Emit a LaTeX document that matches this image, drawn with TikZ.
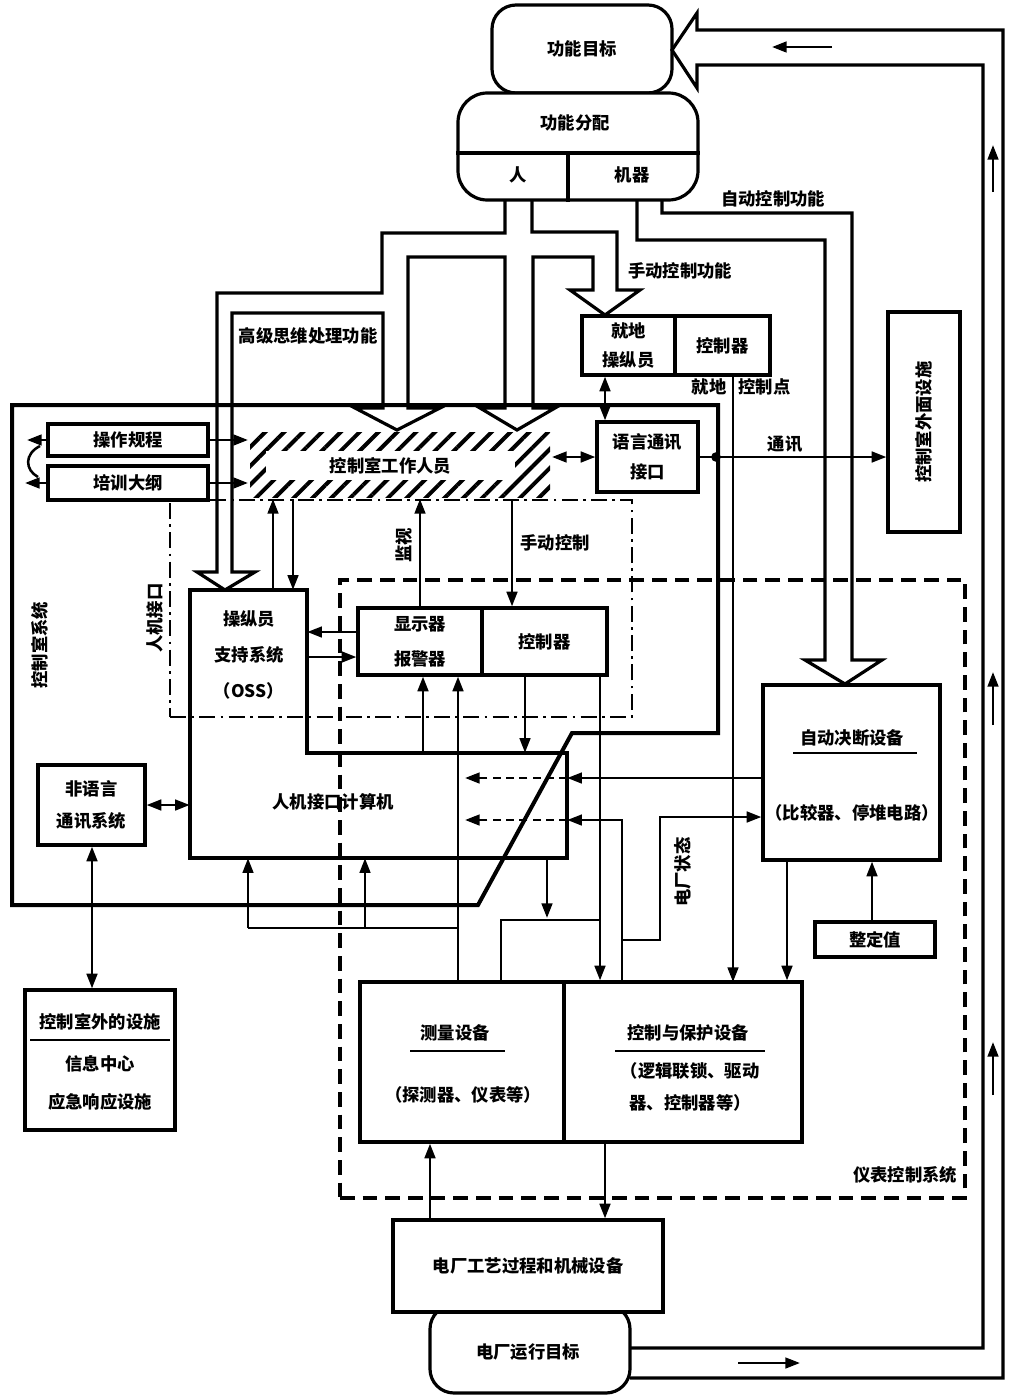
\documentclass[tikz,border=0pt]{standalone}
\usepackage{fontspec}
\setmainfont{Noto Sans CJK SC}
\usetikzlibrary{arrows.meta,patterns.meta,fit,calc}
\begin{document}
\begin{tikzpicture}[x=0.75pt,y=-0.75pt,line join=miter,
  box/.style={draw,line width=2.4pt,inner sep=0pt},
  area/.style={inner sep=0pt},
  lbl/.style={font=\fontsize{13}{19}\selectfont\bfseries,inner sep=1pt,align=center},
  pipe/.style={line width=2.4pt,line join=miter},
  conn/.style={line width=1.9pt},
  tip/.style={-{Triangle[length=11pt,width=8pt]}},
  arr/.style={conn,tip},
  darr/.style={conn,{Triangle[length=11pt,width=8pt]}-{Triangle[length=11pt,width=8pt]}},
  dsh/.style={dash pattern=on 6pt off 4pt},
  dashbox/.style={line width=2.4pt,dash pattern=on 11pt off 6pt},
  dashdot/.style={line width=2pt,dash pattern=on 12pt off 4pt on 2pt off 4pt}]
\useasboundingbox (0,0) rectangle (1014,1395);

% ---------- feedback pipe ----------
\draw[pipe] (630,1378) -- (1003,1378) -- (1003,30) -- (697,30) -- (697,13) -- (672,50)
  -- (697,88) -- (697,65) -- (983,65) -- (983,1348) -- (630,1348);
\draw[arr] (832,47) -- (772,47);
\draw[arr] (738,1363) -- (800,1363);
\draw[arr] (993,192) -- (993,145);
\draw[arr] (993,725) -- (993,672);
\draw[arr] (993,1095) -- (993,1042);

% ---------- top goals ----------
\node[box,rounded corners=18pt,fit={(492,5)(672,93)}] (fg) {};
\node[lbl] (fgt) at (fg) {功能目标};
\node[box,rounded corners=22pt,fill=white,fit={(458,93)(698,200)}] (fa) {};
\draw[line width=2.4pt] (fa.west |- 0,153) -- (fa.east |- 0,153);
\draw[line width=2.4pt] (568,153) -- (568,0 |- fa.south);
\node[lbl] (fat) at (575,123) {功能分配};
\node[lbl] (fah) at (518,175) {人};
\node[lbl] (fam) at (632,175) {机器};

% ---------- pipe from 人 ----------
\draw[pipe] (505,200) -- (505,233) -- (382,233) -- (382,293) -- (217,293) -- (217,572)
  -- (197,572) -- (225,590) -- (255,572) -- (232,572) -- (232,313) -- (383,313) -- (383,408)
  -- (355,408) -- (397,430) -- (440,408) -- (408,408) -- (408,257) -- (505,257) -- (505,408)
  -- (480,408) -- (517,430) -- (555,408) -- (533,408) -- (533,257) -- (593,257) -- (593,290)
  -- (570,290) -- (605,315) -- (640,290) -- (617,290) -- (617,232) -- (532,232) -- (532,200);
% ---------- pipe from 机器 ----------
\draw[pipe] (662,200) -- (662,213) -- (852,213) -- (852,660) -- (882,660) -- (845,684)
  -- (805,660) -- (825,660) -- (825,240) -- (637,240) -- (637,200);

\node[lbl] (lhigh) at (308,336) {高级思维处理功能};
\node[lbl] (lman) at (680,271) {手动控制功能};
\node[lbl] (lauto) at (773,199) {自动控制功能};

% ---------- local operator ----------
\node[box,fit={(582,316)(675,375)}] (lop) {};
\node[box,fit={(675,316)(770,375)}] (lctl) {};
\node[lbl,font=\fontsize{13}{22}\selectfont\bfseries] (lopt) at (lop) {就地\\操纵员};
\node[lbl] (lctlt) at (lctl) {控制器};
\node[lbl,anchor=east] (lcp1) at (728,387) {就地};
\node[lbl,anchor=west] (lcp2) at (737,387) {控制点};

% ---------- outside facilities (right) ----------
\node[box,fit={(888,312)(960,532)}] (outside) {};
\node[lbl,rotate=90] (outsidet) at (outside) {控制室外面设施};

% ---------- instrumentation & control system (dashed) ----------
\node[fit={(340,580)(965,1198)},inner sep=0pt,draw,dashbox] (ics) {};
\node[lbl] (icst) at (905,1175) {仪表控制系统};

% ---------- HMI dash-dot ----------
\node[fit={(170,500)(632,717)},inner sep=0pt,draw,dashdot] (hmi) {};
\node[lbl,rotate=90] (hmit) at (155,618) {人机接口};

% ---------- control room system border ----------
\draw[line width=3pt] (12,405) -- (718,405) -- (718,733) -- (572,733) -- (478,905) -- (12,905) -- cycle;
\node[lbl,rotate=90] (crst) at (40,645) {控制室系统};

% ---------- procedures ----------
\node[box,fit={(48,424)(208,456)}] (proc) {};
\node[lbl] (proct) at (proc) {操作规程};
\node[box,fit={(48,466)(208,500)}] (train) {};
\node[lbl] (traint) at (train) {培训大纲};
\draw[arr] (proc.west) -- (27,440);
\draw[arr] (train.west) -- (25,483);
\draw[conn] (40,446) .. controls (24,454) and (25,470) .. (38,477);

% ---------- control room staff ----------
\node[fit={(250,432)(550,497)},inner sep=0pt,pattern={Lines[angle=45,distance=10pt,line width=3pt]}] (staff) {};
\node[fit={(266,451)(515,480)},inner sep=0pt,fill=white] (staffin) {};
\node[lbl] (stafft) at (staffin) {控制室工作人员};
\draw[arr] (proc.east) -- (staff.west |- proc.east);
\draw[arr] (train.east) -- (staff.west |- train.east);

% ---------- verbal communication interface ----------
\node[box,fit={(597,422)(698,492)}] (vci) {};
\node[lbl,font=\fontsize{13}{22}\selectfont\bfseries] (vcit) at (vci) {语言通讯\\接口};
\draw[darr] (staff.east |- vci) -- (vci.west);
\draw[darr] (605,0 |- lop.south) -- (605,0 |- vci.north);
\draw[arr] (vci.east) -- (outside.west |- vci.east);
\fill (716,457) circle (3.6pt);
\node[lbl] (commt) at (785,444) {通讯};
\draw[arr] (733,0 |- lctl.south) -- (733,982);

% ---------- OSS + HMI computer ----------
\node[area,fit={(190,590)(307,753)}] (oss) {};
\node[area,fit={(190,753)(567,858)}] (comp) {};
\draw[line width=2.4pt] (190,590) -- (307,590) -- (307,753) -- (567,753) -- (567,858) -- (190,858) -- cycle;
\node[lbl,font=\fontsize{13}{27}\selectfont\bfseries] (osst) at (249,655) {操纵员\\支持系统\\（OSS）};
\node[lbl] (compt) at (333,802) {人机接口计算机};
\draw[arr] (273,0 |- oss.north) -- (273,0 |- staff.south);
\draw[arr] (293,0 |- staff.south) -- (293,0 |- oss.north);

% ---------- displays / controls ----------
\node[box,fit={(358,608)(482,675)}] (disp) {};
\node[box,fit={(482,608)(607,675)}] (dctl) {};
\node[lbl,font=\fontsize{13}{26}\selectfont\bfseries] (dispt) at (disp) {显示器\\报警器};
\node[lbl] (dctlt) at (dctl) {控制器};
\draw[arr] (420,0 |- disp.north) -- (420,0 |- staff.south);
\node[lbl,rotate=90] (monit) at (404,545) {监视};
\draw[arr] (512,0 |- staff.south) -- (512,0 |- dctl.north);
\node[lbl] (mant) at (555,543) {手动控制};
\draw[arr] (disp.west |- 0,632) -- (oss.east |- 0,632);
\draw[arr] (oss.east |- 0,657) -- (disp.west |- 0,657);
\draw[arr] (423,0 |- comp.north) -- (423,0 |- disp.south);
\draw[arr] (525,0 |- dctl.south) -- (525,0 |- comp.north);

% ---------- non-verbal ----------
\node[box,fit={(38,765)(145,845)}] (nv) {};
\node[lbl,font=\fontsize{13}{24}\selectfont\bfseries] (nvt) at (nv) {非语言\\通讯系统};
\draw[darr] (nv.east) -- (comp.west |- nv.east);

% ---------- outside facilities (left) ----------
\node[box,fit={(25,990)(175,1130)}] (ext) {};
\node[lbl] (ext1) at (100,1022) {控制室外的设施};
\draw[line width=1.6pt] (30,1040) -- (170,1040);
\node[lbl,font=\fontsize{13}{29}\selectfont\bfseries] (ext2) at (100,1083) {信息中心\\应急响应设施};
\draw[darr] (92,0 |- nv.south) -- (92,0 |- ext.north);

% ---------- automatic decision ----------
\node[box,fit={(763,685)(940,860)}] (auto) {};
\node[lbl] (autot) at (852,738) {自动决断设备};
\draw[line width=1.6pt] (793,753) -- (917,753);
\node[lbl] (autot2) at (852,813) {（比较器、停堆电路）};
\node[box,fit={(815,922)(935,957)}] (set) {};
\node[lbl] (sett) at (set) {整定值};
\draw[arr] (872,0 |- set.north) -- (872,0 |- auto.south);

% ---------- measurement / control & protection ----------
\node[box,fit={(360,982)(564,1142)}] (meas) {};
\node[box,fit={(564,982)(802,1142)}] (ctrlp) {};
\node[lbl] (meast) at (455,1033) {测量设备};
\draw[line width=1.6pt] (410,1051) -- (505,1051);
\node[lbl] (meast2) at (463,1095) {（探测器、仪表等）};
\node[lbl] (ctrlpt) at (688,1033) {控制与保护设备};
\draw[line width=1.6pt] (615,1051) -- (765,1051);
\node[lbl,font=\fontsize{13}{24}\selectfont\bfseries] (ctrlpt2) at (690,1087) {（逻辑联锁、驱动\\器、控制器等）};

\draw[arr] (787,0 |- auto.south) -- (787,0 |- ctrlp.north);
\draw[arr] (600,0 |- dctl.south) -- (600,0 |- ctrlp.north);
\draw[arr] (458,0 |- meas.north) -- (458,0 |- disp.south);
\draw[conn] (501,0 |- meas.north) -- (501,920) -- (600,920);
\draw[arr] (547,0 |- comp.south) -- (547,918);
\draw[conn] (248,928) -- (458,928);
\draw[arr] (248,928) -- (248,0 |- comp.south);
\draw[arr] (365,928) -- (365,0 |- comp.south);

\draw[arr] (auto.west |- 0,778) -- (comp.east |- 0,778);
\draw[arr,dsh] (comp.east |- 0,778) -- (465,778);
\draw[arr] (622,0 |- ctrlp.north) -- (622,820) -- (comp.east |- 0,820);
\draw[arr,dsh] (comp.east |- 0,820) -- (465,820);
\draw[arr] (622,940) -- (660,940) -- (660,817) -- (auto.west |- 0,817);
\node[lbl,rotate=90] (pst) at (683,872) {电厂状态};

% ---------- plant ----------
\node[box,rounded corners=18pt,fit={(430,1305)(630,1393)}] (goal) {};
\node[box,fill=white,fit={(393,1220)(663,1312)}] (plant) {};
\node[lbl] (plantt) at (plant) {电厂工艺过程和机械设备};
\node[lbl] (goalt) at (528,1352) {电厂运行目标};
\draw[arr] (430,0 |- plant.north) -- (430,0 |- meas.south);
\draw[arr] (605,0 |- ctrlp.south) -- (605,0 |- plant.north);
\end{tikzpicture}
\end{document}
